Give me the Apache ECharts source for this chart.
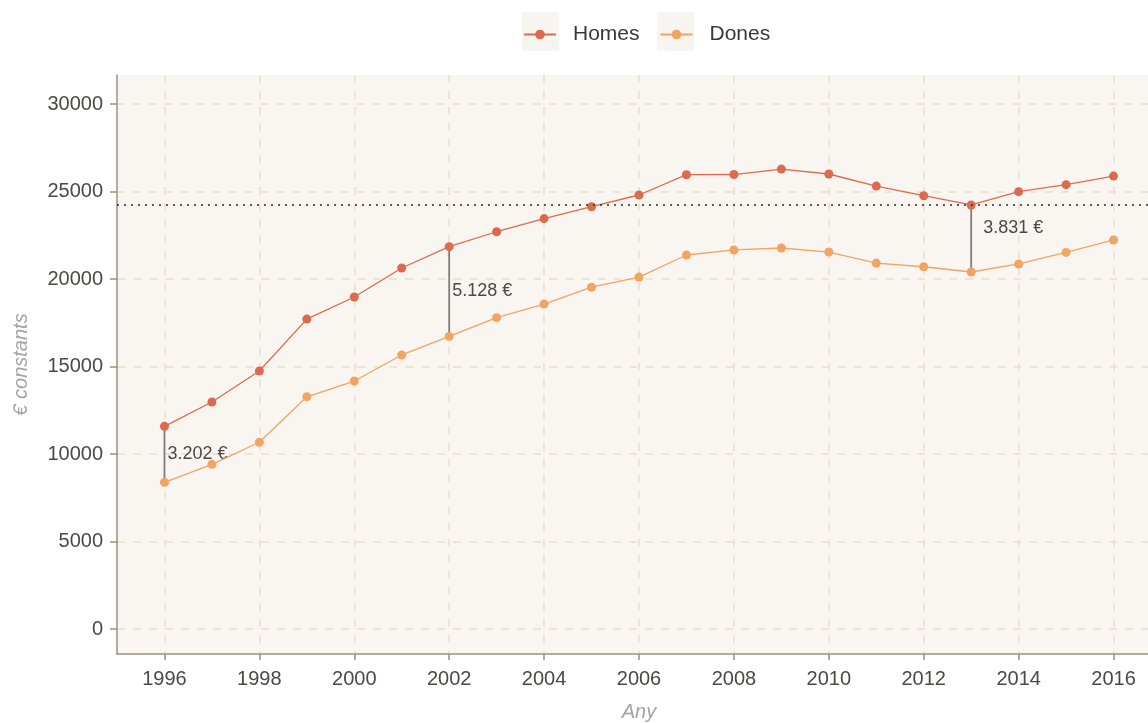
<!DOCTYPE html>
<html>
<head>
<meta charset="utf-8">
<script src="https://cdn.jsdelivr.net/npm/echarts@6/dist/echarts.min.js"></script>
<style>
  html, body { margin: 0; padding: 0; background: #fff; }
  #chart { width: 1148px; height: 723px; }
</style>
</head>
<body>
<div id="chart"></div>
<script>
// dades
const years = [1996, 1997, 1998, 1999, 2000, 2001, 2002, 2003, 2004, 2005, 2006,
  2007, 2008, 2009, 2010, 2011, 2012, 2013, 2014, 2015, 2016]
const homes = [11582, 12970, 14740, 17710, 18970, 20630, 21848, 22700, 23450, 24130, 24800,
  25960, 25970, 26280, 26000, 25310, 24760, 24230, 24990, 25390, 25880]
const dones = [8380, 9410, 10670, 13270, 14170, 15660, 16720, 17790, 18570, 19530, 20110,
  21370, 21660, 21770, 21540, 20910, 20700, 20399, 20860, 21520, 22230]
const gapYears = [1996, 2002, 2013]
const refYear = 2013
const yTicks = [0, 5000, 10000, 15000, 20000, 25000, 30000]
const xTicks = [1996, 1998, 2000, 2002, 2004, 2006, 2008, 2010, 2012, 2014, 2016]

const font = 'Liberation Sans, Arial, sans-serif'
const fmtEur = v => String(v).replace(/\B(?=(\d{3})+(?!\d))/g, '.') + ' €'

const gapData = gapYears.map(y => {
  const i = years.indexOf(y)
  return [y, dones[i], homes[i], fmtEur(homes[i] - dones[i])]
})

const chart = echarts.init(document.getElementById('chart'))
chart.setOption({
  backgroundColor: '#ffffff',
  animation: false,
  textStyle: { fontFamily: font },
  legend: {
    top: 19,
    left: 518,
    itemWidth: 32,
    itemHeight: 12,
    itemGap: 20,
    textStyle: { fontSize: 21, color: '#3d3636', padding: [0, 0, 0, 12] },
    data: ['Homes', 'Dones']
  },
  graphic: [
    { type: 'rect', z: -1, shape: { x: 522, y: 12, width: 37, height: 39 }, style: { fill: '#f8f4ef' } },
    { type: 'rect', z: -1, shape: { x: 657, y: 12, width: 37, height: 39 }, style: { fill: '#f8f4ef' } }
  ],
  grid: {
    left: 117,
    width: 1044,
    top: 75,
    bottom: 69,
    outerBoundsMode: 'none',
    containLabel: false,
    show: true,
    backgroundColor: '#f9f6f1',
    borderWidth: 0
  },
  xAxis: {
    type: 'value',
    min: 1995,
    max: 2017,
    name: 'Any',
    nameLocation: 'middle',
    nameGap: 48,
    nameTextStyle: { fontSize: 20, fontStyle: 'italic', color: '#a3a3a3' },
    axisLine: { show: true, onZero: false, lineStyle: { color: '#9e8f7c', width: 1.5 } },
    axisTick: { show: true, length: 6, customValues: xTicks, lineStyle: { color: '#9e8f7c', width: 1.5 } },
    axisLabel: { customValues: xTicks, formatter: v => String(v), fontSize: 20, color: '#4d4848', margin: 15 },
    splitLine: { show: true, lineStyle: { color: '#e6dfcc', type: [8, 8], width: 1.5 } }
  },
  yAxis: {
    type: 'value',
    min: -1429,
    max: 31657,
    name: '€ constants',
    nameLocation: 'middle',
    nameGap: 86,
    nameTextStyle: { fontSize: 20, fontStyle: 'italic', color: '#a3a3a3' },
    axisLine: { show: true, onZero: false, lineStyle: { color: '#9e8f7c', width: 1.5 } },
    axisTick: { show: true, length: 7, customValues: yTicks, lineStyle: { color: '#9e8f7c', width: 1.5 } },
    axisLabel: { customValues: yTicks, formatter: v => String(v), fontSize: 20, color: '#4d4848', margin: 14 },
    splitLine: { show: true, lineStyle: { color: '#e6dfcc', type: [8, 8], width: 1.5 } }
  },
  series: [
    {
      name: 'Homes',
      type: 'line',
      data: years.map((y, i) => [y, homes[i]]),
      color: '#dc6a50',
      symbol: 'circle',
      symbolSize: 9,
      lineStyle: { width: 1.3 },
      z: 3,
      markLine: {
        silent: true,
        symbol: 'none',
        label: { show: false },
        lineStyle: { color: '#2b2b2b', type: [2, 5], width: 1.6 },
        data: [{ yAxis: homes[years.indexOf(refYear)] }]
      }
    },
    {
      name: 'Dones',
      type: 'line',
      data: years.map((y, i) => [y, dones[i]]),
      color: '#f2a463',
      symbol: 'circle',
      symbolSize: 9,
      lineStyle: { width: 1.3 },
      z: 3
    },
    {
      type: 'custom',
      z: 2,
      data: gapData,
      renderItem: (params, api) => {
        const x = api.value(0)
        const lo = api.coord([x, api.value(1)])
        const hi = api.coord([x, api.value(2)])
        const last = params.dataIndex === gapData.length - 1
        return {
          type: 'group',
          children: [
            {
              type: 'line',
              shape: { x1: lo[0], y1: lo[1], x2: hi[0], y2: hi[1] },
              style: { stroke: '#7f7f7f', lineWidth: 1.8 }
            },
            {
              type: 'text',
              z2: 10,
              style: {
                x: lo[0] + (last ? 12 : 3),
                y: (lo[1] + hi[1]) / 2 - (last ? 10 : 0),
                text: gapData[params.dataIndex][3],
                fill: '#4d4848',
                font: '18px ' + font,
                verticalAlign: 'middle',
                align: 'left'
              }
            }
          ]
        }
      }
    }
  ]
})
</script>
</body>
</html>
